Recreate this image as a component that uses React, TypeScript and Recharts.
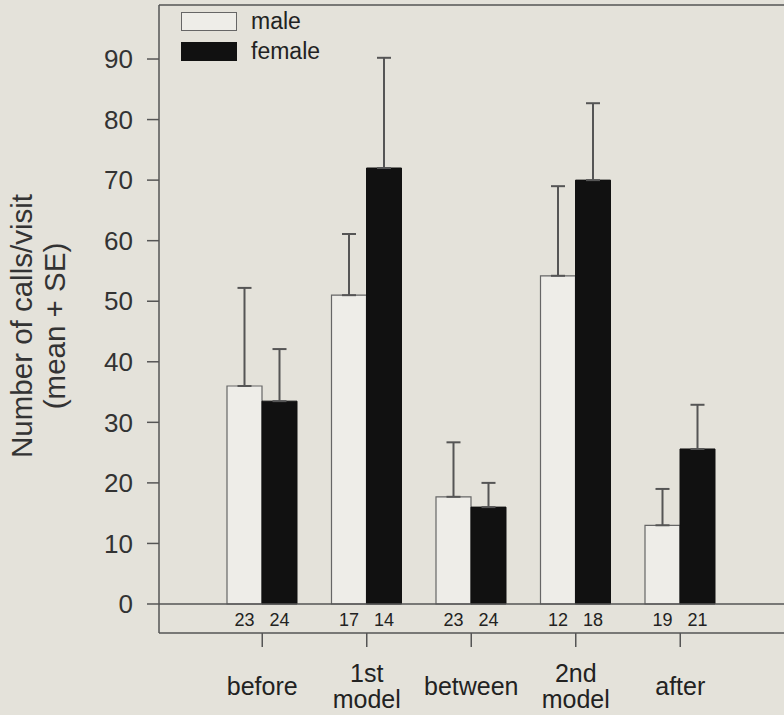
import React from 'react'
import {
  BarChart, Bar, XAxis, YAxis, ErrorBar, ReferenceLine, LabelList, Legend,
} from 'recharts'

const categories = ['before', '1st\nmodel', 'between', '2nd\nmodel', 'after']
const maleMean = [36, 51, 17.7, 54.2, 13]
const maleSE = [16.2, 10.1, 9, 14.8, 6]
const femaleMean = [33.5, 72, 16, 70, 25.6]
const femaleSE = [8.6, 18.2, 4, 12.7, 7.3]
const maleN = [23, 17, 23, 12, 19]
const femaleN = [24, 14, 24, 18, 21]
const yTicks = [0, 10, 20, 30, 40, 50, 60, 70, 80, 90]
const seriesNames = ['male', 'female']

const Y_MIN = -4.79
const Y_MAX = 98.92

const data = categories.map((c, i) => ({
  cat: c,
  male: maleMean[i],
  maleErr: [0, maleSE[i]],
  maleN: maleN[i],
  female: femaleMean[i],
  femaleErr: [0, femaleSE[i]],
  femaleN: femaleN[i],
}))

const FONT = '"Liberation Sans", Arial, Helvetica, sans-serif'
const BG = '#e4e2da'
const INK = '#222'
const LINE = '#555'
const MALE_FILL = '#eeede8'

// sample sizes drawn in the strip under the zero line
const nLabel = (props: any) => {
  const { x, y, width, height, value } = props
  return (
    <text x={x + width / 2} y={y + height + 22} textAnchor="middle"
      fontSize={18} fill={INK} fontFamily={FONT}>
      {value}
    </text>
  )
}

const CatTick = (props: any) => {
  const { x, y, payload } = props
  const lines = String(payload.value).split('\n')
  const start = lines.length === 1 ? y + 46 : y + 33
  return (
    <g>
      {lines.map((l, i) => (
        <text key={i} x={x} y={start + i * 26} textAnchor="middle"
          fontSize={25} fill={INK} fontFamily={FONT}>
          {l}
        </text>
      ))}
    </g>
  )
}

const LegendBox = (props: any) => {
  const items = [...(props.payload || [])].sort(
    (a: any, b: any) => seriesNames.indexOf(a.value) - seriesNames.indexOf(b.value))
  return (
    <div style={{ position: 'relative', fontFamily: FONT }}>
      {items.map((it: any, i: number) => (
        <div key={i} style={{ position: 'absolute', left: 181, top: 12 + i * 30, display: 'flex', alignItems: 'center' }}>
          <div style={{
            width: 54, height: 17, boxSizing: 'content-box',
            background: it.value === 'male' ? MALE_FILL : '#111',
            border: `1px solid ${it.value === 'male' ? '#666' : '#111'}`,
          }} />
          <span style={{ marginLeft: 14, fontSize: 23, color: INK, lineHeight: '19px' }}>{it.value}</span>
        </div>
      ))}
    </div>
  )
}

export default function App() {
  return (
    <div style={{ position: 'absolute', left: 0, top: 0, width: 784, height: 715, overflow: 'hidden', background: BG }}>
      <BarChart width={830} height={715} data={data} barGap={0} barSize={35}
        margin={{ top: 5, right: 0, left: 0, bottom: 0 }}>
        <XAxis dataKey="cat" height={82} tickSize={14} interval={0}
          tick={<CatTick />} tickLine={{ stroke: LINE, strokeWidth: 1.5 }}
          axisLine={{ stroke: LINE, strokeWidth: 1.5 }}
          padding={{ left: 51, right: 97.5 }} />
        <YAxis width={159} domain={[Y_MIN, Y_MAX]} ticks={yTicks} allowDataOverflow
          tickSize={12} tickMargin={14}
          tick={{ fontSize: 26, fill: '#333', fontFamily: FONT }}
          tickLine={{ stroke: LINE, strokeWidth: 1.5 }}
          axisLine={{ stroke: LINE, strokeWidth: 1.5 }}
          label={{
            content: () => (
              <g fontFamily={FONT} fontSize={29.5} fill="#333">
                <text transform="translate(32,326) rotate(-90)" textAnchor="middle">Number of calls/visit</text>
                <text transform="translate(65,326) rotate(-90)" textAnchor="middle">(mean + SE)</text>
              </g>
            ),
          }} />
        <ReferenceLine y={0} stroke={LINE} strokeWidth={1.5} />
        <ReferenceLine y={Y_MAX} stroke={LINE} strokeWidth={1.5} />
        <Legend verticalAlign="middle" align="center" layout="horizontal"
          wrapperStyle={{ top: 0, left: 0, width: 400, height: 80 }}
          content={<LegendBox />} />
        <Bar dataKey="male" name="male" fill={MALE_FILL} stroke="#666" strokeWidth={1.2}
          isAnimationActive={false}>
          <ErrorBar dataKey="maleErr" direction="y" width={7} stroke={LINE} strokeWidth={2} />
          <LabelList dataKey="maleN" content={nLabel} />
        </Bar>
        <Bar dataKey="female" name="female" fill="#111" stroke="#111" strokeWidth={1}
          isAnimationActive={false}>
          <ErrorBar dataKey="femaleErr" direction="y" width={7} stroke={LINE} strokeWidth={2} />
          <LabelList dataKey="femaleN" content={nLabel} />
        </Bar>
      </BarChart>
    </div>
  )
}
